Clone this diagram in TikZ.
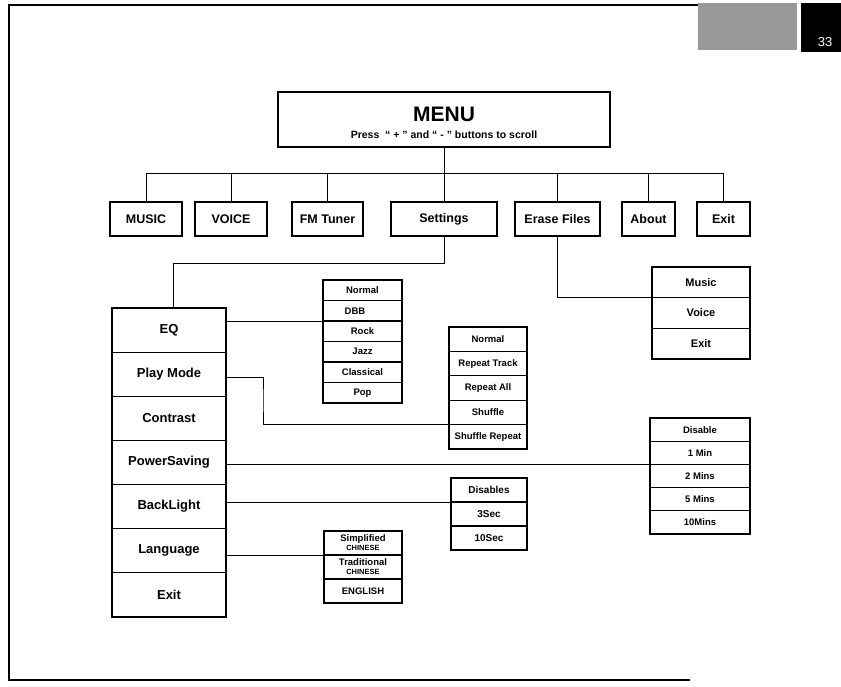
\documentclass[tikz,border=0pt]{standalone}
\usepackage{fontspec}
\setmainfont{Liberation Sans}
\usetikzlibrary{positioning}
\begin{document}
\begin{tikzpicture}[x=1pt,y=-1pt,
  box/.style={draw, line width=1.1pt, inner sep=0pt, outer sep=0pt, align=center},
  topbox/.style={box, minimum height=34pt, font=\fontsize{12.5}{14}\bfseries},
  colcell/.style={box, minimum width=114pt, minimum height=44.14pt, font=\fontsize{13}{15}\bfseries},
  eqcell/.style={box, minimum width=79pt, minimum height=20.5pt, font=\fontsize{9.5}{11}\bfseries},
  pmcell/.style={box, minimum width=78pt, minimum height=24.4pt, font=\fontsize{9.5}{11}\bfseries},
  pwcell/.style={box, minimum width=100pt, minimum height=23.2pt, font=\fontsize{9.5}{11}\bfseries},
  blcell/.style={box, minimum width=76pt, minimum height=24pt, font=\fontsize{10}{11}\bfseries},
  lgcell/.style={box, minimum width=78pt, minimum height=24pt, font=\fontsize{9.5}{9}\bfseries},
  mucell/.style={box, minimum width=98pt, minimum height=30.67pt, font=\fontsize{11}{13}\bfseries},
  conn/.style={line width=1pt}]
\useasboundingbox (0,0) rectangle (841,686);
% frame and header
\draw[line width=1.3pt] (698,5) -- (9,5) -- (9,680) -- (690,680);
\fill[black!40] (698,3) rectangle (797,50);
\fill[black] (801,3) rectangle (841,52);
\node[text=white, font=\fontsize{13}{14}\selectfont] (pg) at (825,42) {33};
% menu
\node[box, minimum width=332pt, minimum height=55pt] (menu) at (444,119.5) {};
\node[font=\fontsize{21}{24}\bfseries] (menut) at (444,114) {MENU};
\node[font=\fontsize{10.5}{12}\bfseries] (menus) at (444,135) {Press \ “ + ” and “ - ” buttons to scroll};
% top row
\node[topbox, minimum width=72pt] (tMusic) at (146,219) {MUSIC};
\node[topbox, minimum width=72pt] (tVoice) at (231,219) {VOICE};
\node[topbox, minimum width=71pt] (tFM) at (327.5,219) {FM Tuner};
\node[topbox, minimum width=106pt] (tSet) at (444,219) {Settings};
\node[topbox, minimum width=85pt] (tErase) at (557.5,219) {Erase Files};
\node[topbox, minimum width=53pt] (tAbout) at (648.5,219) {About};
\node[topbox, minimum width=53pt] (tExit) at (723.5,219) {Exit};
\coordinate (bus) at (444,173);
\draw[conn] (menu.south) -- (bus);
\draw[conn] (tMusic.north |- bus) -- (tExit.north |- bus);
\foreach \n in {tMusic,tVoice,tFM,tSet,tErase,tAbout,tExit}
  \draw[conn] (\n.north) -- (\n.north |- bus);
% settings column
\node[colcell, anchor=north] (c1) at (169,308) {EQ};
\node[colcell, below=0pt of c1] (c2) {Play Mode};
\node[colcell, below=0pt of c2] (c3) {Contrast};
\node[colcell, below=0pt of c3] (c4) {PowerSaving};
\node[colcell, below=0pt of c4] (c5) {BackLight};
\node[colcell, below=0pt of c5] (c6) {Language};
\node[colcell, below=0pt of c6] (c7) {Exit};
\coordinate (sb) at (173,263);
\draw[conn] (tSet.south) |- (sb) -- (sb |- c1.north);
% EQ list
\node[eqcell, anchor=north] (e1) at (362.5,280) {Normal};
\node[eqcell, below=0pt of e1] (e2) {\hspace*{-15pt}DBB};
\node[eqcell, below=0pt of e2] (e3) {Rock};
\node[eqcell, below=0pt of e3] (e4) {Jazz};
\node[eqcell, below=0pt of e4] (e5) {Classical};
\node[eqcell, below=0pt of e5] (e6) {Pop};
\draw[conn] (e3.north west) -- (e3.north west -| c1.east);
% Play mode list
\node[pmcell, anchor=north] (p1) at (488,327) {Normal};
\node[pmcell, below=0pt of p1] (p2) {Repeat Track};
\node[pmcell, below=0pt of p2] (p3) {Repeat All};
\node[pmcell, below=0pt of p3] (p4) {Shuffle};
\node[pmcell, below=0pt of p4] (p5) {Shuffle Repeat};
\coordinate (pmx) at (263,400);
\draw[conn] ([yshift=-3pt]c2.east) -| (pmx) |- (p4.south west);
% Power saving list
\node[pwcell, anchor=north] (w1) at (700,418) {Disable};
\node[pwcell, below=0pt of w1] (w2) {1 Min};
\node[pwcell, below=0pt of w2] (w3) {2 Mins};
\node[pwcell, below=0pt of w3] (w4) {5 Mins};
\node[pwcell, below=0pt of w4] (w5) {10Mins};
\draw[conn] (w2.south west) -- (w2.south west -| c4.east);
% Backlight list
\node[blcell, anchor=north] (b1) at (489,478) {Disables};
\node[blcell, below=0pt of b1] (b2) {3Sec};
\node[blcell, below=0pt of b2] (b3) {10Sec};
\draw[conn] (b1.south west) -- (b1.south west -| c5.east);
% Language list
\node[lgcell, anchor=north] (l1) at (363,531) {Simplified\\{\fontsize{7.5}{8}\selectfont CHINESE}};
\node[lgcell, below=0pt of l1] (l2) {Traditional\\{\fontsize{7.5}{8}\selectfont CHINESE}};
\node[lgcell, below=0pt of l2] (l3) {ENGLISH};
\draw[conn] (l1.south west) -- (l1.south west -| c6.east);
% Erase files list
\node[mucell, anchor=north] (m1) at (701,267) {Music};
\node[mucell, below=0pt of m1] (m2) {Voice};
\node[mucell, below=0pt of m2] (m3) {Exit};
\draw[conn] (tErase.south) |- (m1.south west);
\end{tikzpicture}
\end{document}
